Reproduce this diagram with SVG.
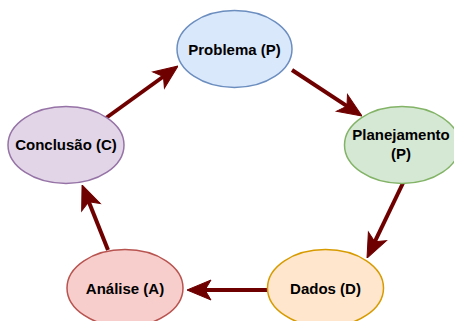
<svg xmlns="http://www.w3.org/2000/svg" width="454" height="321" viewBox="0 0 454 321">
<style>
.lbl{font-family:"Liberation Sans",Arial,sans-serif;font-weight:bold;font-size:15px;fill:#000;text-anchor:middle}
.edge{stroke:#6F0000;stroke-width:4;fill:none}
</style>
<defs>
<marker id="ah" markerUnits="userSpaceOnUse" markerWidth="26" markerHeight="24" viewBox="-14 -12 26 24" refX="0" refY="0" orient="auto">
<path d="M12,0 L-12,-10 L-6,0 L-12,10 Z" fill="#6F0000" stroke="#6F0000" stroke-width="1"/>
</marker>
</defs>
<rect width="454" height="321" fill="#fff"/>
<g id="connectors">
<line class="edge" x1="292" y1="70" x2="352" y2="109.4" marker-end="url(#ah)"/>
<line class="edge" x1="403" y1="183" x2="372.2" y2="247.2" marker-end="url(#ah)"/>
<line class="edge" x1="267" y1="290" x2="199" y2="290" marker-end="url(#ah)"/>
<line class="edge" x1="108" y1="250" x2="86.5" y2="196.1" marker-end="url(#ah)"/>
<line class="edge" x1="106" y1="118" x2="168.3" y2="73" marker-end="url(#ah)"/>
</g>
<g id="problema">
<ellipse cx="234.5" cy="49" rx="57.5" ry="38.5" fill="#dae8fc" stroke="#6c8ebf" stroke-width="1.5"/>
<text class="lbl" x="234.5" y="55">Problema (P)</text>
</g>
<g id="planejamento">
<ellipse cx="402" cy="145" rx="57.5" ry="38.5" fill="#d5e8d4" stroke="#82b366" stroke-width="1.5"/>
<text class="lbl" x="401" y="140">Planejamento</text>
<text class="lbl" x="401" y="159">(P)</text>
</g>
<g id="dados">
<ellipse cx="325.5" cy="288" rx="58" ry="38.5" fill="#ffe6cc" stroke="#d79b00" stroke-width="1.5"/>
<text class="lbl" x="325.5" y="294">Dados (D)</text>
</g>
<g id="analise">
<ellipse cx="125" cy="288" rx="58" ry="38.5" fill="#f8cecc" stroke="#b85450" stroke-width="1.5"/>
<text class="lbl" x="125" y="294">Análise (A)</text>
</g>
<g id="conclusao">
<ellipse cx="66" cy="145" rx="58" ry="38.5" fill="#e1d5e7" stroke="#9673a6" stroke-width="1.5"/>
<text class="lbl" x="66" y="150">Conclusão (C)</text>
</g>
</svg>
